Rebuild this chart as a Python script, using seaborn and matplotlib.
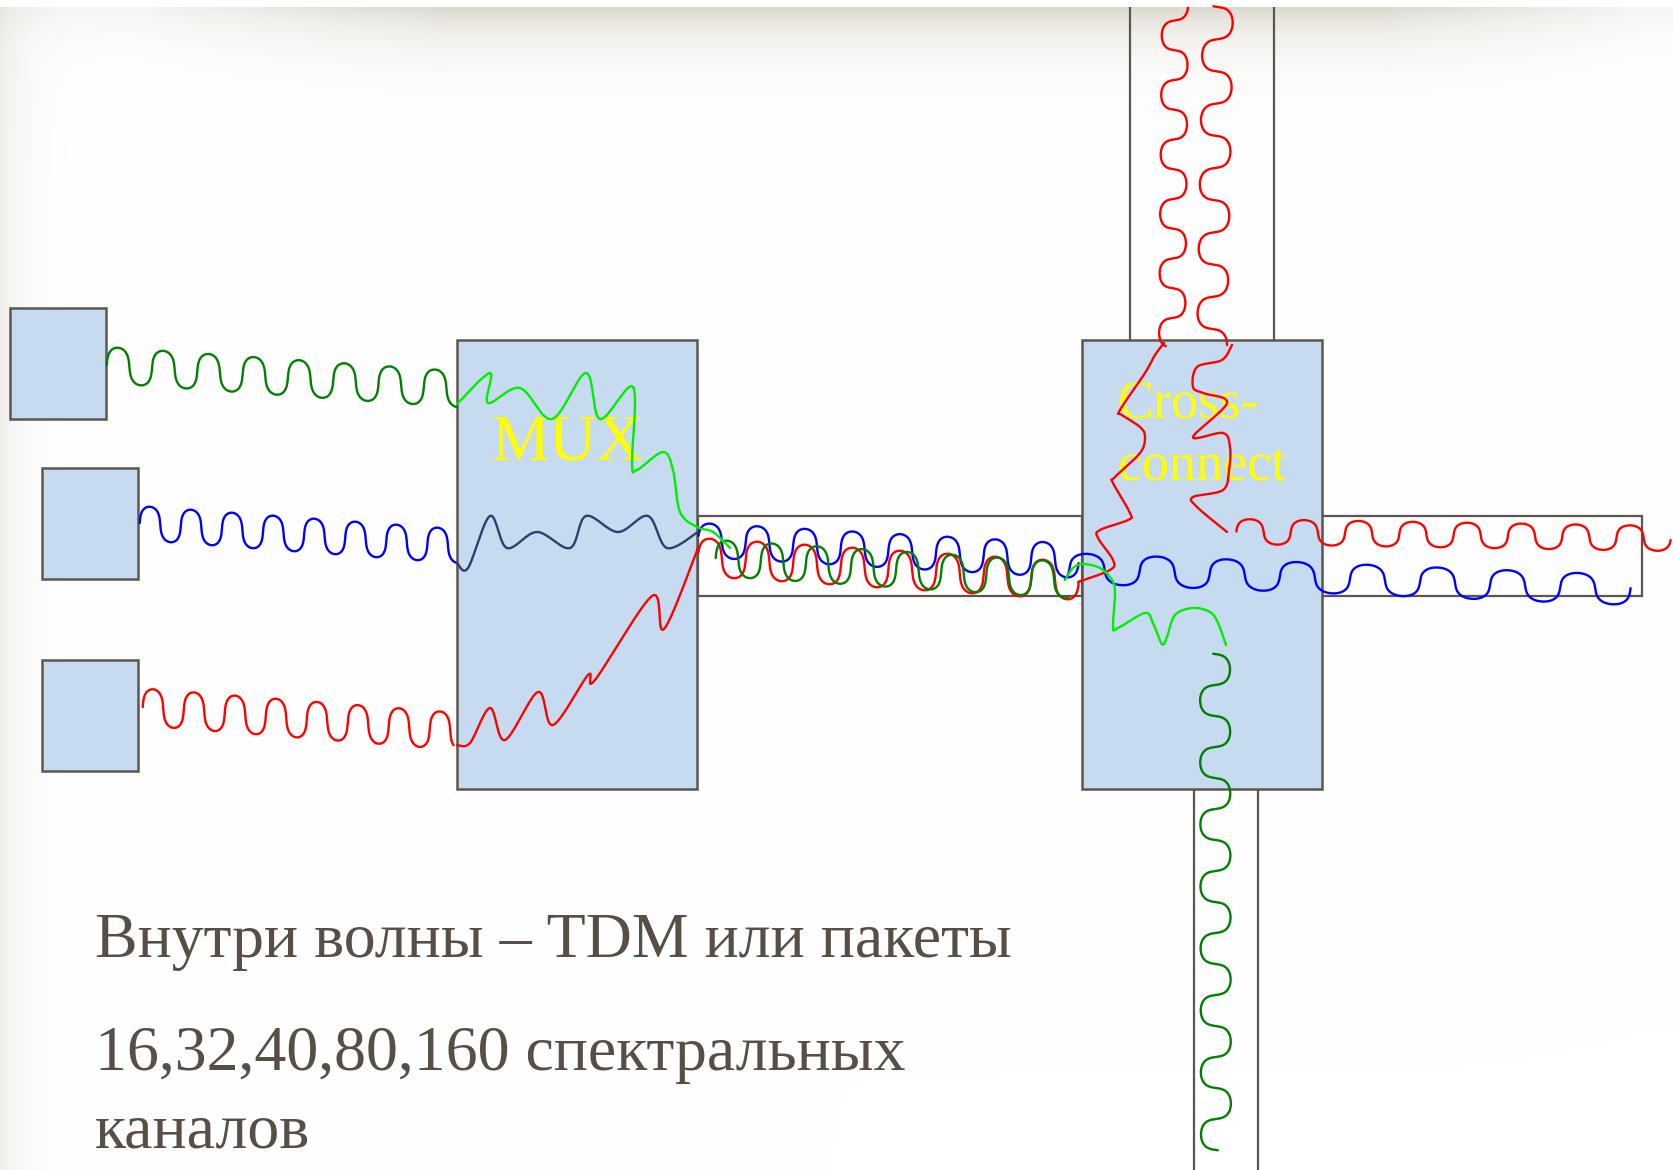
import numpy as np
import matplotlib
matplotlib.use("Agg")
import matplotlib.pyplot as plt
import seaborn as sns
from matplotlib.patches import Rectangle

# canvas in pixels (full size of the slide)
W, H = 1673, 1170

# blocks: left sources, MUX, cross-connect  (x, y, w, h)
BOX_NAMES = ["src1", "src2", "src3", "MUX", "Cross-connect"]
BOX_X = [9.6, 41.6, 41.6, 457.5, 1082]
BOX_Y = [308, 468, 660, 340, 340]
BOX_W = [96, 96, 96, 240, 240]
BOX_H = [111, 111, 111, 448.5, 448.5]

# horizontal fibers (closed tubes)
FIBER_X = [697.7, 1322]
FIBER_Y = [516, 516]
FIBER_W = [384.3, 320]
FIBER_H = [80, 80]
# vertical fibers run off the slide: only side walls (x_left, x_right, y_top, y_bottom)
VFIBER_XL = [1130, 1194]
VFIBER_XR = [1274, 1258]
VFIBER_Y0 = [7, 788.5]
VFIBER_Y1 = [340, 1170]

# regular waves: direction, phase-zero position, period, start/end cycle,
# centre line at start/end, amplitude
WAVE_COLOR = ["#008000", "#0000ff", "#ff0000",
              "#0000ff", "#ff0000", "#008000",
              "#0000ff", "#ff0000",
              "#ff0000", "#ff0000", "#008000"]
WAVE_DIR = ["h", "h", "h", "h", "h", "h", "h", "h", "v", "v", "v"]
WAVE_A0 = [106.7, 139.7, 142.75, 698, 698, 715.7, 1069.5, 1236.4, 318, 7, 654]
WAVE_PERIOD = [45.3, 41.1, 41.0, 47.6, 47.6, 45.1, 70.1, 54.3, -59.5, 64.4, 62]
WAVE_C0 = [0, 0, 0, 0.04, 0.04, 0, -0.13, 0, -0.42, -0.05, -0.02]
WAVE_C1 = [7.73, 7.72, 7.64, 7.98, 7.98, 7.79, 8.02, 7.98, 5.23, 5.25, 8.02]
WAVE_CROSS0 = [365, 523, 707, 540, 557, 558, 568, 531.5, 1172, 1218, 1215]
WAVE_CROSS1 = [389, 546, 731, 561, 581, 580, 590, 538.5, 1175, 1212, 1216]
WAVE_AMP = [18, 17, 18.5, 17, 19, 18, 15, 12.5, 13, 15, 15]

# free-hand signal paths inside the boxes
MUX_LIME_X = [457, 490, 488, 520, 552, 586, 600, 633, 632, 637, 663, 673, 680, 697, 713, 730]
MUX_LIME_Y = [404, 373, 403, 388, 419, 373, 419, 387, 463, 470, 452, 470, 512, 527, 532, 548]
MUX_NAVY_X = [457, 468, 490, 507, 537, 570, 586, 618, 648, 667, 698]
MUX_NAVY_Y = [563, 568, 516, 548, 532, 548, 516, 532, 516, 548, 532]
MUX_RED_X = [457, 470, 490, 505, 538, 553, 588, 595, 652, 664, 698]
MUX_RED_Y = [745, 743, 708, 740, 692, 725, 675, 680, 596, 629, 548]
CC_RED1_X = [1078, 1110, 1113, 1098, 1100, 1128, 1130, 1113, 1115, 1140, 1145, 1140, 1122, 1120, 1145, 1155, 1164]
CC_RED1_Y = [582, 570, 560, 538, 530, 520, 513, 483, 477, 453, 437, 427, 415, 410, 373, 355, 343]
CC_RED2_X = [1232, 1222, 1197, 1193, 1203, 1227, 1193, 1223, 1230, 1229, 1223, 1193, 1197, 1227]
CC_RED2_Y = [345, 360, 367, 387, 393, 403, 437, 433, 447, 470, 490, 497, 507, 532]
CC_LIME_X = [1065, 1073, 1083, 1100, 1112, 1115, 1113, 1118, 1145, 1153, 1162, 1167, 1175, 1193, 1210, 1218, 1226]
CC_LIME_Y = [580, 568, 564, 568, 580, 593, 627, 628, 613, 623, 644, 637, 615, 608, 612, 623, 645]

FREE_PATHS = [
    (MUX_LIME_X, MUX_LIME_Y, "#00ee00"),
    (MUX_NAVY_X, MUX_NAVY_Y, "#2d3f6e"),
    (MUX_RED_X, MUX_RED_Y, "#ff0000"),
    (CC_RED1_X, CC_RED1_Y, "#ff0000"),
    (CC_RED2_X, CC_RED2_Y, "#ff0000"),
    (CC_LIME_X, CC_LIME_Y, "#00ee00"),
]

TEXT_LINES = ["Внутри волны – TDM или пакеты",
              "16,32,40,80,160 спектральных",
              "каналов"]
TEXT_BASE = [957, 1070, 1148]

SKEW = 0.8


def make_wave(direction, a0, period, c0, c1, cr0, cr1, amp):
    phi = np.linspace(2 * np.pi * c0, 2 * np.pi * c1, 600)
    along = a0 + period * (phi - SKEW * np.sin(2 * phi) / 2) / (2 * np.pi)
    frac = (along - along[0]) / (along[-1] - along[0])
    cross = cr0 + (cr1 - cr0) * frac
    if direction == "h":
        return along, cross - amp * np.sin(phi)
    return cross + amp * np.sin(phi), along


def smooth(xs, ys, n=20):
    # catmull-rom through the control points
    p = np.column_stack([xs, ys]).astype(float)
    p = np.vstack([p[0], p, p[-1]])
    out = []
    t = np.linspace(0, 1, n, endpoint=False)[:, None]
    for i in range(1, len(p) - 2):
        p0, p1, p2, p3 = p[i - 1], p[i], p[i + 1], p[i + 2]
        seg = 0.5 * ((2 * p1) + (-p0 + p2) * t + (2 * p0 - 5 * p1 + 4 * p2 - p3) * t ** 2
                     + (-p0 + 3 * p1 - 3 * p2 + p3) * t ** 3)
        out.append(seg)
    out.append(p[-2][None, :])
    out = np.vstack(out)
    return out[:, 0], out[:, 1]


sns.set_theme(style="white")
plt.rcParams["font.family"] = ["Liberation Serif", "DejaVu Serif"]

fig = plt.figure(figsize=(W / 100, H / 100), dpi=100)
ax = fig.add_axes([0, 0, 1, 1])

# slide background with soft shadow at the top and left edge
yy, xx = np.mgrid[0:H, 0:W].astype(float)
gx = np.clip((xx - 130) / 320, 0, 1) * np.clip((1640 - xx) / 260, 0, 1)
top = np.where(yy >= 7, np.exp(-np.clip(yy - 7, 0, None) / 30.0), 0) * (0.25 + 0.75 * gx)
left = np.where(yy >= 7, 0.4 * np.exp(-xx / 24.0), 0)
shade = np.clip(top + left, 0, 1)[..., None]
shadow_col = np.array([0.86, 0.845, 0.805])
bg = 1 - (1 - shadow_col) * shade
ax.imshow(bg, extent=[0, W, H, 0], aspect="auto", zorder=0, interpolation="bilinear")

edge = "#5c5650"
for x, y, w, h in zip(FIBER_X, FIBER_Y, FIBER_W, FIBER_H):
    ax.add_patch(Rectangle((x, y), w, h, fill=False, ec=edge, lw=1.6, zorder=1))
for xl, xr, y0, y1 in zip(VFIBER_XL, VFIBER_XR, VFIBER_Y0, VFIBER_Y1):
    ax.vlines([xl, xr], y0, y1, colors=edge, lw=1.6, zorder=1)
for x, y, w, h in zip(BOX_X, BOX_Y, BOX_W, BOX_H):
    ax.add_patch(Rectangle((x, y), w, h, fc="#c6dbef", ec=edge, lw=1.8, zorder=2))

ax.text(567, 460, "MUX", color="#ffff00", fontsize=47, ha="center", va="baseline", zorder=3)
ax.text(1118, 418, "Cross-", color="#ffff00", fontsize=39, ha="left", va="baseline", zorder=3)
ax.text(1118, 480, "connect", color="#ffff00", fontsize=39, ha="left", va="baseline", zorder=3)

for i in range(len(WAVE_COLOR)):
    wx, wy = make_wave(WAVE_DIR[i], WAVE_A0[i], WAVE_PERIOD[i], WAVE_C0[i], WAVE_C1[i],
                       WAVE_CROSS0[i], WAVE_CROSS1[i], WAVE_AMP[i])
    sns.lineplot(x=wx, y=wy, sort=False, estimator=None, color=WAVE_COLOR[i],
                 linewidth=1.7, ax=ax, zorder=4)

for px, py, col in FREE_PATHS:
    sx, sy = smooth(px, py)
    sns.lineplot(x=sx, y=sy, sort=False, estimator=None, color=col,
                 linewidth=1.7, ax=ax, zorder=4)

for line, base in zip(TEXT_LINES, TEXT_BASE):
    ax.text(95, base, line, color="#574e45", fontsize=46, ha="left", va="baseline", zorder=3)

ax.set_xlim(0, W)
ax.set_ylim(H, 0)
ax.axis("off")
fig.savefig("out.png", dpi=100)
